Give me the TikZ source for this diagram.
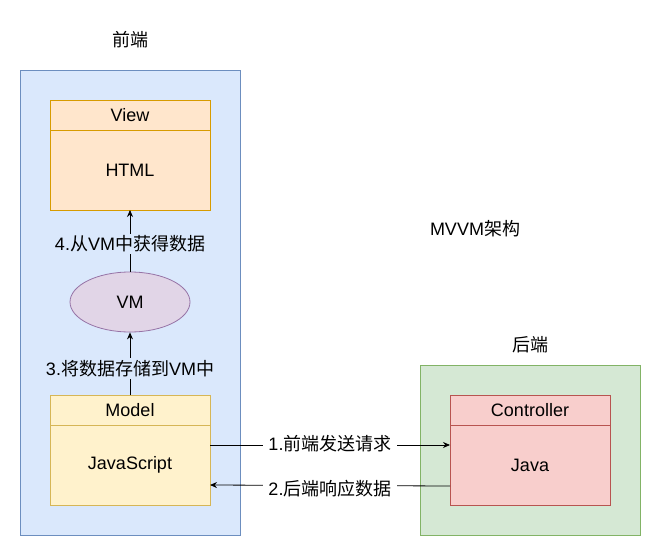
\documentclass[tikz,border=0pt]{standalone}
\usepackage{fontspec}
\setmainfont{Liberation Sans}
\newfontfamily\cjk{Noto Sans CJK SC}
\usetikzlibrary{arrows.meta,shapes.geometric}
\definecolor{blueF}{HTML}{DAE8FC}\definecolor{blueS}{HTML}{6C8EBF}
\definecolor{greenF}{HTML}{D5E8D4}\definecolor{greenS}{HTML}{82B366}
\definecolor{orangeF}{HTML}{FFE6CC}\definecolor{orangeS}{HTML}{D79B00}
\definecolor{yellowF}{HTML}{FFF2CC}\definecolor{yellowS}{HTML}{D6B656}
\definecolor{redF}{HTML}{F8CECC}\definecolor{redS}{HTML}{B85450}
\definecolor{purpleF}{HTML}{E1D5E7}\definecolor{purpleS}{HTML}{9673A6}
\tikzset{
  txt/.style={font=\fontsize{18}{21}\selectfont, inner sep=1pt},
  arr/.style={draw=black, line width=0.8pt, -{Stealth[length=7pt,width=6pt]}},
  lane/.style={draw=#1S, fill=#1F, line width=0.8pt},
}
\begin{document}
\begin{tikzpicture}[x=1pt,y=-1pt]
\useasboundingbox (0,0) rectangle (661,556);
% containers
\node[txt] (fe) at (130,40) {\cjk 前端};
\draw[lane=blue] (20,70) rectangle (240,535);
\node[txt] (be) at (530,345) {\cjk 后端};
\draw[lane=green] (420,365) rectangle (640,535);
\node[txt] (title) at (475,229) {MVVM{\cjk 架构}};
% View
\draw[lane=orange] (50,100) rectangle (210,210);
\draw[draw=orangeS, line width=0.8pt] (50,130) -- (210,130);
\node[txt] (viewh) at (130,115) {View};
\node[txt] (html) at (130,170) {HTML};
\coordinate (viewb) at (130,210);
% VM
\node[ellipse, draw=purpleS, fill=purpleF, line width=0.8pt, minimum width=120pt, minimum height=60pt, inner sep=0pt, txt] (vm) at (130,302) {VM};
% Model
\draw[lane=yellow] (50,395) rectangle (210,505);
\draw[draw=yellowS, line width=0.8pt] (50,425) -- (210,425);
\node[txt] (modelh) at (130,410) {Model};
\node[txt] (js) at (130,465) {JavaScript};
\coordinate (modelt) at (130,395);
\coordinate (modelr1) at (210,445);
\coordinate (modelr2) at (210,485);
% Controller
\draw[lane=red] (450,395) rectangle (610,505);
\draw[draw=redS, line width=0.8pt] (450,425) -- (610,425);
\node[txt] (ctrlh) at (530,410) {Controller};
\node[txt] (java) at (530,465) {Java};
\coordinate (ctrll1) at (450,445);
\coordinate (ctrll2) at (450,486);
% arrows
\draw[arr] (modelt) -- node[txt, fill=blueF, inner sep=2pt, pos=0.42] (l3) {3.{\cjk 将数据存储到}VM{\cjk 中}} (vm.south);
\draw[arr] (vm.north) -- node[txt, fill=blueF, inner sep=2pt, pos=0.45] (l4) {4.{\cjk 从}VM{\cjk 中获得数据}} (viewb);
\draw[arr] (modelr1) -- node[txt, fill=white, inner sep=5pt, yshift=1pt] (l1) {1.{\cjk 前端发送请求}} (ctrll1);
\draw[arr] (ctrll2) -- node[txt, fill=white, inner sep=5pt, yshift=-3pt] (l2) {2.{\cjk 后端响应数据}} (modelr2);
\end{tikzpicture}
\end{document}
